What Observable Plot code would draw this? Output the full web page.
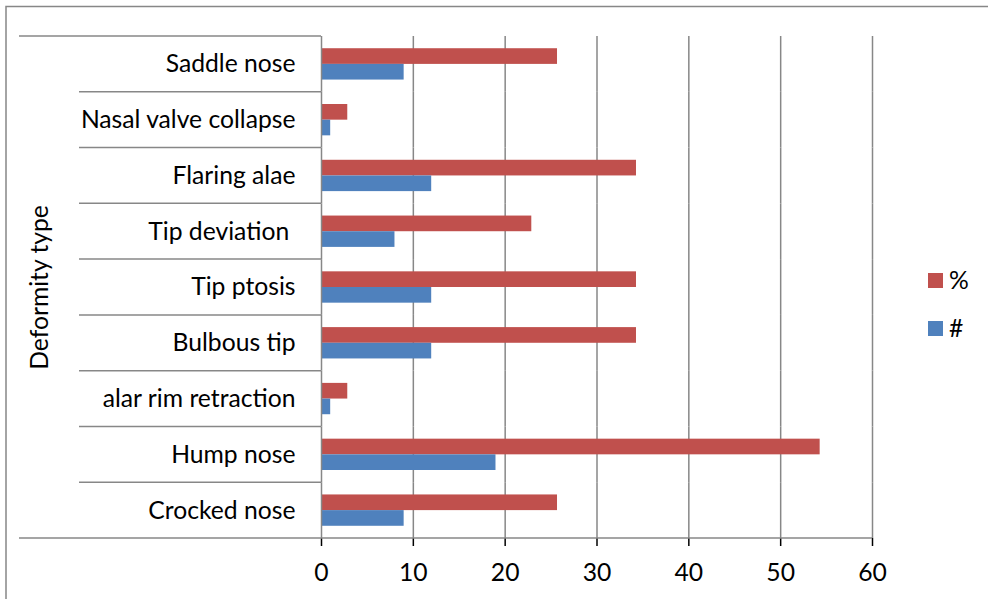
<!DOCTYPE html>
<html><head><meta charset="utf-8">
<script src="https://cdn.jsdelivr.net/npm/d3@7"></script>
<script src="https://cdn.jsdelivr.net/npm/@observablehq/plot@0.6"></script>
<style>
html,body{margin:0;padding:0;background:#fff;overflow:hidden;}
svg text{white-space:pre;}
g[aria-label="x-axis tick"]{stroke:#878787;stroke-width:1.5;}
</style></head><body><div id="chart"></div>
<script>
// Categories listed top to bottom as in the chart
const categories = ["Saddle nose","Nasal valve collapse","Flaring alae","Tip deviation ","Tip ptosis","Bulbous tip","alar rim retraction","Hump nose","Crocked nose"];
const countValues = [9, 1, 12, 8, 12, 12, 1, 19, 9];
const percentValues = [25.7, 2.86, 34.3, 22.9, 34.3, 34.3, 2.86, 54.3, 25.7];
const seriesNames = ["%", "#"];
const seriesColors = ["#C0504D", "#4F81BD"];
const xTicks = [0, 10, 20, 30, 40, 50, 60];
const axisTitle = "Deformity type";

const data = categories.flatMap((c, i) => [
  {category: c, series: seriesNames[0], value: percentValues[i]},
  {category: c, series: seriesNames[1], value: countValues[i]}
]);

const FONT = "Lato, 'Noto Sans', sans-serif";
const FS = "24.7px";
const GRID = "#878787";

const plot = Plot.plot({
  width: 988, height: 599,
  marginLeft: 321, marginRight: 116, marginTop: 36, marginBottom: 61,
  style: {fontFamily: FONT, fontSize: FS, color: "black", background: "white", overflow: "visible"},
  x: {domain: [0, 60], ticks: xTicks, tickSize: 8, tickPadding: 17, label: null},
  y: {domain: seriesNames, paddingInner: 0, paddingOuter: 0.78, round: false, axis: null},
  fy: {domain: categories, padding: 0, round: false, axis: "left", tickSize: 0, tickPadding: 26, label: null},
  color: {domain: seriesNames, range: seriesColors},
  marks: [
    Plot.ruleX(xTicks.slice(1), {stroke: GRID, strokeWidth: 1.5}),
    Plot.barX(data, {x: "value", y: "series", fy: "category", fill: "series"}),
    Plot.ruleX([0], {stroke: GRID, strokeWidth: 1.5})
  ]
});
document.getElementById("chart").appendChild(plot);

const svg = d3.select(plot);
const fy = plot.scale("fy");
const xs = plot.scale("x");
const bw = fy.bandwidth;
const edges = categories.map(c => fy.apply(c)).concat([fy.apply(categories[categories.length - 1]) + bw]);
const deco = svg.append("g").attr("stroke", GRID).attr("stroke-width", 1.5);
edges.forEach((e, i) => {
  const outer = i === 0 || i === edges.length - 1;
  deco.append("line")
    .attr("x1", outer ? 19 : 79)
    .attr("x2", i === edges.length - 1 ? xs.apply(60) : xs.apply(0))
    .attr("y1", e).attr("y2", e);
});
// outer chart frame
svg.append("rect").attr("x", 6).attr("y", 6.5).attr("width", 1200).attr("height", 900)
  .attr("fill", "none").attr("stroke", GRID).attr("stroke-width", 1.5);

// axis title
svg.append("text").text(axisTitle)
  .attr("transform", "translate(47.5,287.5) rotate(-90)")
  .attr("text-anchor", "middle").attr("fill", "black")
  .style("font-family", FONT).style("font-size", FS);

// legend
const lg = svg.append("g");
seriesNames.forEach((s, i) => {
  const y0 = 273 + i * 48;
  lg.append("rect").attr("x", 928).attr("y", y0).attr("width", 15).attr("height", 15).attr("fill", seriesColors[i]);
  lg.append("text").text(s).attr("x", 949).attr("y", y0 + 7.5).attr("dy", "0.35em")
    .attr("text-anchor", "start")
    .attr("fill", "black").style("font-family", FONT).style("font-size", FS);
});
</script></body></html>
